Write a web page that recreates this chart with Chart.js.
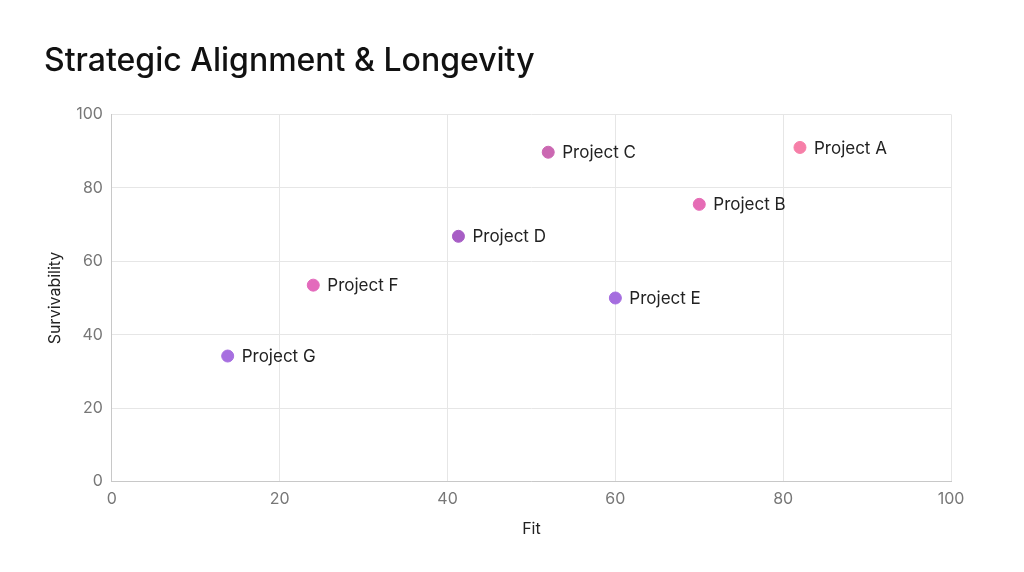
<!DOCTYPE html>
<html>
<head>
<meta charset="utf-8">
<script src="https://cdn.jsdelivr.net/npm/chart.js@4"></script>
<style>
  html, body { margin: 0; padding: 0; background: #fff; }
  #wrap { width: 1024px; height: 572px; }
</style>
</head>
<body>
<div id="wrap"><canvas id="myChart"></canvas></div>
<script>
const projects = ["Project A", "Project B", "Project C", "Project D", "Project E", "Project F", "Project G"];
const fitValues = [82, 70, 52, 41.3, 60, 24, 13.8];
const survivabilityValues = [91, 75.5, 89.7, 66.8, 50, 53.5, 34.2];
const pointColors = ["#f67fa8", "#e56cb5", "#cb68b2", "#a75dc5", "#a56ddf", "#e36abc", "#a76fe0"];

const FONT = "Inter, 'Noto Sans', sans-serif";

// draws the project name next to each point
const pointLabels = {
    id: 'pointLabels',
    afterDatasetsDraw(chart) {
        const ctx = chart.ctx;
        const meta = chart.getDatasetMeta(0);
        ctx.save();
        ctx.font = "17px " + FONT;
        ctx.fillStyle = "#222";
        ctx.textBaseline = "middle";
        meta.data.forEach((pt, i) => {
            ctx.fillText(projects[i], pt.x + 14, pt.y + 1);
        });
        ctx.restore();
    }
};

const ctx = document.getElementById("myChart").getContext('2d');
const myChart = new Chart(ctx, {
    type: 'scatter',
    data: {
        datasets: [{
            label: 'Projects',
            data: fitValues.map((x, i) => ({x: x, y: survivabilityValues[i]})),
            backgroundColor: pointColors,
            borderColor: pointColors,
            pointRadius: 6,
            pointHoverRadius: 6
        }]
    },
    options: {
        responsive: true,
        maintainAspectRatio: false,
        animation: false,
        layout: { padding: { left: 44, right: 73, top: 42, bottom: 29 } },
        plugins: {
            legend: { display: false },
            tooltip: { enabled: false },
            title: {
                display: true,
                text: 'Strategic Alignment & Longevity',
                align: 'start',
                color: '#111',
                font: { family: FONT, size: 32, weight: '500' },
                padding: { top: 0, bottom: 34 }
            }
        },
        scales: {
            x: {
                min: 0, max: 100,
                ticks: { stepSize: 20, color: '#777', font: { family: FONT, size: 16 }, padding: 8 },
                grid: { color: '#e6e6e6', tickLength: 0 },
                border: { color: '#c8c8c8' },
                title: { display: true, text: 'Fit', color: '#222', font: { family: FONT, size: 16 }, padding: { top: 3 } }
            },
            y: {
                min: 0, max: 100,
                ticks: { stepSize: 20, color: '#777', font: { family: FONT, size: 16 }, padding: 9 },
                grid: { color: '#e6e6e6', tickLength: 0 },
                border: { color: '#c8c8c8' },
                title: { display: true, text: 'Survivability', color: '#222', font: { family: FONT, size: 16 }, padding: { top: 2, bottom: 2 } }
            }
        }
    },
    plugins: [pointLabels]
});
</script>
</body>
</html>
